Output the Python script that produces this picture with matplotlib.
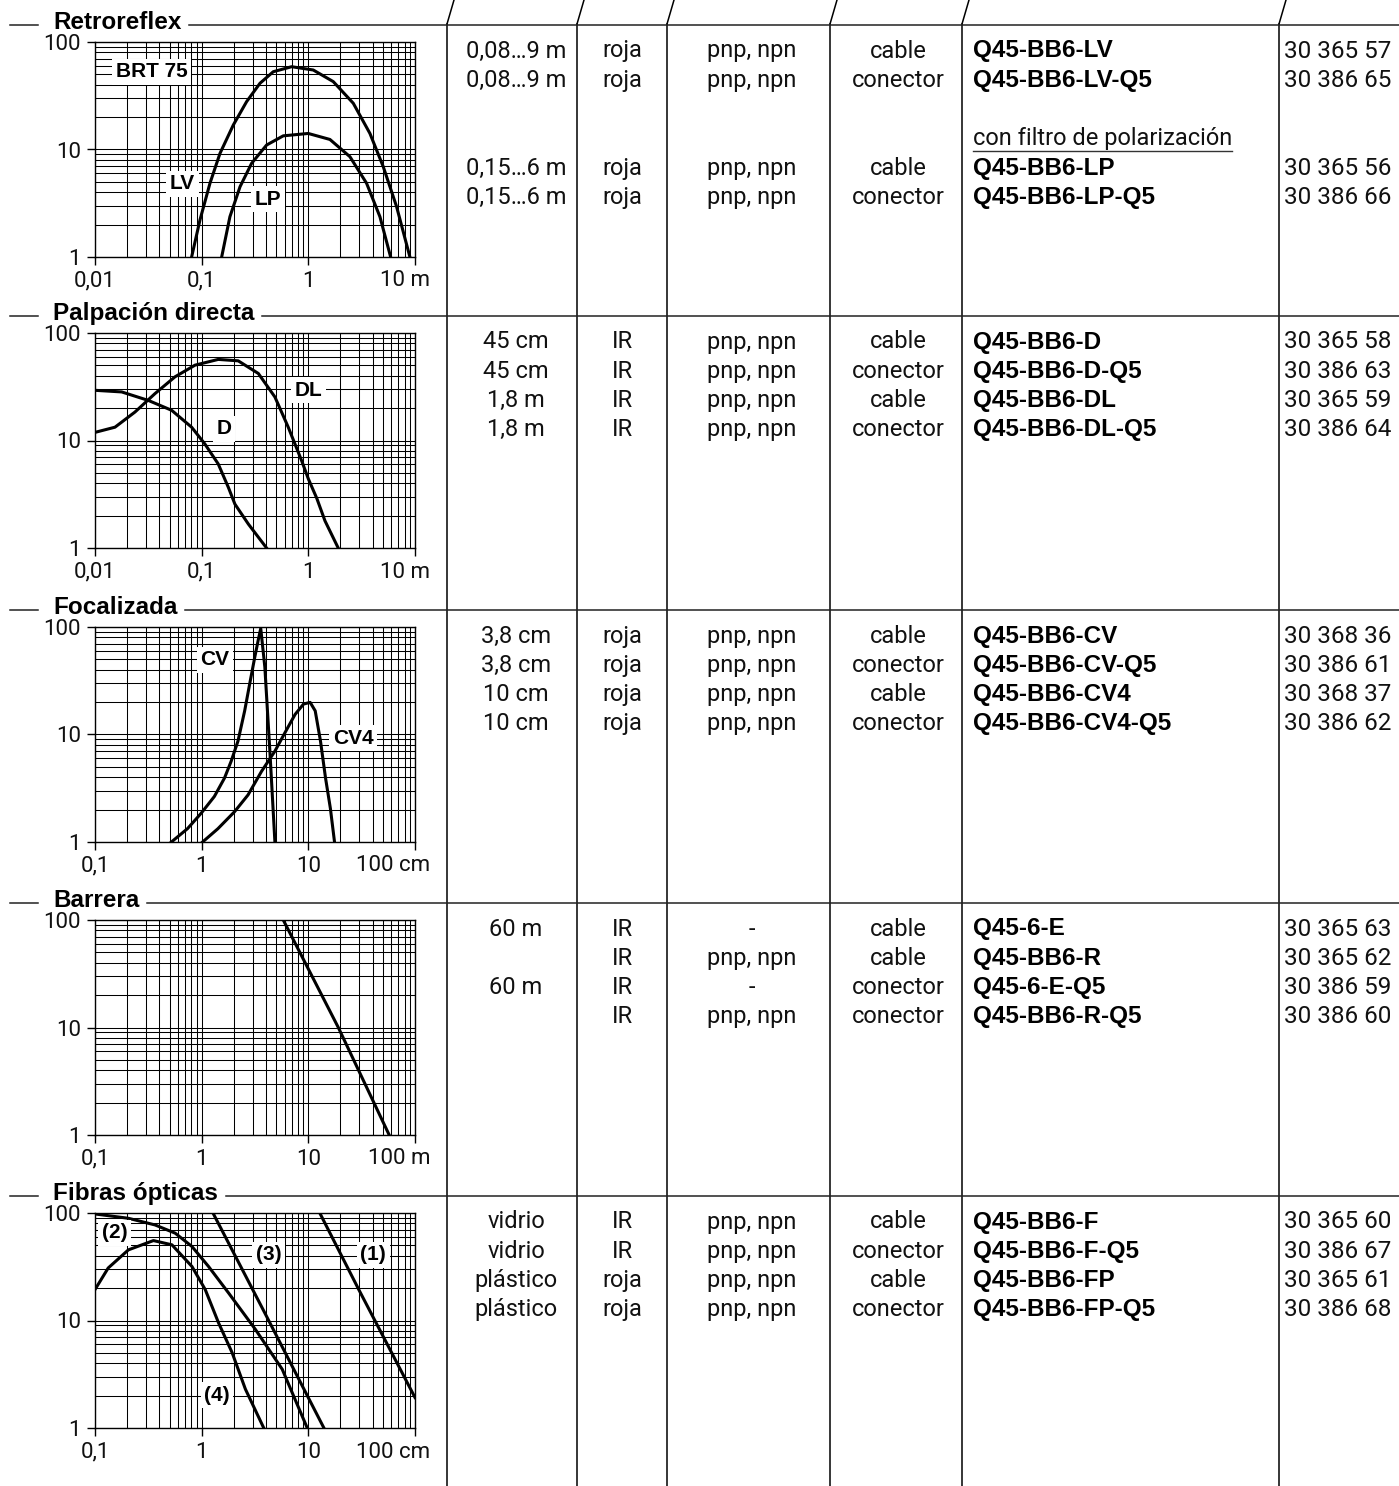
import matplotlib
matplotlib.use('agg')
import matplotlib.pyplot as plt
from matplotlib.lines import Line2D
from matplotlib.ticker import LogLocator, NullFormatter
from matplotlib.transforms import offset_copy

W, H = 1399, 1486

plt.rcParams['font.family'] = ['Roboto', 'DejaVu Sans']
plt.rcParams['font.weight'] = 'normal'

# --- curve data (x = distance, y = excess gain) ---
lv_x = [0.0805, 0.0964, 0.1196, 0.1485, 0.198, 0.264, 0.352, 0.469, 0.697, 1.112, 1.713, 2.64, 3.78, 5.04, 6.72, 8.96]
lv_y = [1.0, 2.21, 4.85, 9.2, 16.9, 27.9, 41.3, 52.9, 58.9, 54.9, 42.8, 26.9, 14.1, 6.92, 2.94, 1.0]
lp_x = [0.154, 0.184, 0.229, 0.294, 0.406, 0.582, 0.998, 1.594, 2.455, 3.516, 4.69, 5.91]
lp_y = [1.0, 2.37, 4.51, 7.44, 11.0, 13.4, 14.1, 12.4, 8.57, 4.85, 2.37, 1.0]

d_x = [0.01, 0.0178, 0.0316, 0.0523, 0.0805, 0.107, 0.143, 0.178, 0.205, 0.274, 0.406]
d_y = [29.3, 28.3, 23.6, 19.1, 13.3, 9.3, 6.05, 3.66, 2.56, 1.67, 1.0]
dl_x = [0.01, 0.0154, 0.0237, 0.0365, 0.0562, 0.0865, 0.143, 0.22, 0.34, 0.486, 0.648, 0.865, 1.0, 1.2, 1.432, 1.906]
dl_y = [11.9, 13.3, 18.4, 27.3, 39.1, 50.2, 56.8, 55.1, 42, 25.4, 13.3, 6.5, 4.4, 2.9, 1.79, 1.0]

cv_x = [0.52, 0.736, 0.984, 1.315, 1.636, 1.89, 2.19, 2.53, 2.82, 3.15, 3.39, 3.58, 3.91, 4.36, 4.86]
cv_y = [1.0, 1.33, 1.84, 2.65, 3.93, 5.64, 8.69, 16.6, 29.6, 52.7, 75.5, 97, 42.5, 7.0, 1.0]
cv4_x = [1.02, 1.42, 2.03, 2.72, 3.64, 4.86, 6.04, 7.52, 9.02, 10.4, 11.6, 13.0, 14.5, 16.1, 17.6]
cv4_y = [1.0, 1.33, 1.91, 2.74, 4.54, 7.0, 10.4, 15.4, 19.2, 19.9, 16.6, 8.69, 3.93, 2.05, 1.0]

e_x = [5.82, 19.1, 57.3]
e_y = [100, 10, 1]

f1_x = [12.8, 29.7, 100]
f1_y = [100, 19.4, 1.92]
f2_x = [0.1, 0.2056, 0.366, 0.565, 0.811, 1.16, 1.79, 3.19, 5.69, 9.77]
f2_y = [98, 89.3, 77.4, 64.9, 48.8, 31.8, 18.0, 8.26, 3.52, 1.0]
f3_x = [1.29, 3.9, 14.0]
f3_y = [98, 11.8, 1.0]
f4_x = [0.1, 0.133, 0.2056, 0.353, 0.526, 0.811, 1.08, 1.44, 1.93, 2.57, 3.82]
f4_y = [19.4, 30.8, 45.4, 55.4, 50.6, 31.8, 19.4, 9.5, 5.02, 2.30, 1.0]

# --- sections ---
titles = ['Retroreflex', 'Palpación directa', 'Focalizada', 'Barrera', 'Fibras ópticas']
x_ranges = [(0.01, 10), (0.01, 10), (0.1, 100), (0.1, 100), (0.1, 100)]
x_labels = [['0,01', '0,1', '1', '10 m'],
            ['0,01', '0,1', '1', '10 m'],
            ['0,1', '1', '10', '100 cm'],
            ['0,1', '1', '10', '100 m'],
            ['0,1', '1', '10', '100 cm']]
curves = [[(lv_x, lv_y), (lp_x, lp_y)],
          [(d_x, d_y), (dl_x, dl_y)],
          [(cv_x, cv_y), (cv4_x, cv4_y)],
          [(e_x, e_y)],
          [(f1_x, f1_y), (f2_x, f2_y), (f3_x, f3_y), (f4_x, f4_y)]]
curve_labels = [[('BRT 75', 0.034, 53), ('LV', 0.066, 4.78), ('LP', 0.42, 3.46)],
                [('DL', 1.0, 29.3), ('D', 0.162, 12.9)],
                [('CV', 1.33, 49.8), ('CV4', 26.4, 9.2)],
                [],
                [('(2)', 0.152, 65.7), ('(3)', 4.24, 40.8), ('(1)', 40.5, 40.8), ('(4)', 1.39, 2.02)]]

# --- table ---
rng = [['0,08…9 m', '0,08…9 m', '0,15…6 m', '0,15…6 m'],
       ['45 cm', '45 cm', '1,8 m', '1,8 m'],
       ['3,8 cm', '3,8 cm', '10 cm', '10 cm'],
       ['60 m', '', '60 m', ''],
       ['vidrio', 'vidrio', 'plástico', 'plástico']]
light = [['roja', 'roja', 'roja', 'roja'],
         ['IR', 'IR', 'IR', 'IR'],
         ['roja', 'roja', 'roja', 'roja'],
         ['IR', 'IR', 'IR', 'IR'],
         ['IR', 'IR', 'roja', 'roja']]
output = [['pnp, npn'] * 4, ['pnp, npn'] * 4, ['pnp, npn'] * 4,
          ['-', 'pnp, npn', '-', 'pnp, npn'], ['pnp, npn'] * 4]
conn = [['cable', 'conector', 'cable', 'conector'],
        ['cable', 'conector', 'cable', 'conector'],
        ['cable', 'conector', 'cable', 'conector'],
        ['cable', 'cable', 'conector', 'conector'],
        ['cable', 'conector', 'cable', 'conector']]
models = [['Q45-BB6-LV', 'Q45-BB6-LV-Q5', 'Q45-BB6-LP', 'Q45-BB6-LP-Q5'],
          ['Q45-BB6-D', 'Q45-BB6-D-Q5', 'Q45-BB6-DL', 'Q45-BB6-DL-Q5'],
          ['Q45-BB6-CV', 'Q45-BB6-CV-Q5', 'Q45-BB6-CV4', 'Q45-BB6-CV4-Q5'],
          ['Q45-6-E', 'Q45-BB6-R', 'Q45-6-E-Q5', 'Q45-BB6-R-Q5'],
          ['Q45-BB6-F', 'Q45-BB6-F-Q5', 'Q45-BB6-FP', 'Q45-BB6-FP-Q5']]
order_no = [['30 365 57', '30 386 65', '30 365 56', '30 386 66'],
            ['30 365 58', '30 386 63', '30 365 59', '30 386 64'],
            ['30 368 36', '30 386 61', '30 368 37', '30 386 62'],
            ['30 365 63', '30 365 62', '30 386 59', '30 386 60'],
            ['30 365 60', '30 386 67', '30 365 61', '30 386 68']]
row_slots = [[0, 1, 4, 5], [0, 1, 2, 3], [0, 1, 2, 3], [0, 1, 2, 3], [0, 1, 2, 3]]

# layout in pixels
chart_tops = [42, 333, 627, 920, 1213]
chart_left, chart_w, chart_h = 95, 320, 215
col_lines = [447, 577, 667, 830, 962, 1279]
col_centers = [516, 622, 752, 898]
model_x, order_x = 973, 1284
row_step = 29.3

LIGHT = dict(family=['Roboto', 'DejaVu Sans'], weight='normal', color='#111111')
BOLD = dict(family=['Liberation Sans', 'DejaVu Sans'], weight='bold', color='black')


def fx(x):
    return x / W


def fy(y):
    return 1 - y / H


def hline(fig, x0, x1, y, lw=1.1, color='#222222'):
    fig.add_artist(Line2D([fx(x0), fx(x1)], [fy(y), fy(y)], transform=fig.transFigure,
                          color=color, lw=lw))


fig = plt.figure(figsize=(W / 100, H / 100), dpi=100)
renderer = fig.canvas.get_renderer()

# column separators with the slanted header strokes
for cx in col_lines:
    fig.add_artist(Line2D([fx(cx), fx(cx)], [fy(24), fy(H)], transform=fig.transFigure,
                          color='black', lw=1.1))
    fig.add_artist(Line2D([fx(cx), fx(cx + 7)], [fy(24), fy(0)], transform=fig.transFigure,
                          color='black', lw=1.1))

for i, title in enumerate(titles):
    top = chart_tops[i]
    head_y = top - 17

    # section header: short dash, bold title, long rule
    hline(fig, 10, 38, head_y)
    t = fig.text(fx(53), fy(head_y + 4), title, fontsize=17.5, va='baseline', **BOLD)
    bb = t.get_window_extent(renderer)
    hline(fig, bb.x1 + 8, W, head_y)

    # chart
    ax = fig.add_axes([fx(chart_left), fy(top + chart_h), chart_w / W, chart_h / H])
    ax.set_xscale('log')
    ax.set_yscale('log')
    x0, x1 = x_ranges[i]
    ax.set_xlim(x0, x1)
    ax.set_ylim(1, 100)
    for cx_, cy_ in curves[i]:
        ax.plot(cx_, cy_, color='black', lw=2.2, solid_joinstyle='round', zorder=3)
    for s, lx, ly in curve_labels[i]:
        ax.text(lx, ly, s, ha='center', va='center', fontsize=15, zorder=4,
                bbox=dict(facecolor='white', edgecolor='none', pad=2.5), **BOLD)

    ax.xaxis.set_minor_locator(LogLocator(base=10, subs=range(2, 10)))
    ax.yaxis.set_minor_locator(LogLocator(base=10, subs=range(2, 10)))
    ax.xaxis.set_minor_formatter(NullFormatter())
    ax.yaxis.set_minor_formatter(NullFormatter())
    ax.grid(True, which='both', color='black', lw=0.75, zorder=1)
    ax.set_axisbelow(True)

    ax.set_xticks([x0, x0 * 10, x0 * 100, x1])
    ax.set_xticklabels(x_labels[i][:-1] + [''])
    ax.set_yticks([1, 10, 100])
    ax.set_yticklabels(['1', '10', '100'])
    ax.tick_params(which='major', length=6, width=1, color='black', pad=4,
                   labelsize=16, labelcolor='#111111')
    ax.tick_params(which='minor', length=0)
    # unit label sits right-aligned past the last tick
    tr = offset_copy(ax.transAxes, fig=fig, x=15, y=-13.5, units='dots')
    ax.text(1.0, 0, x_labels[i][-1], transform=tr, ha='right', va='top', fontsize=16, **LIGHT)
    for sp in ax.spines.values():
        sp.set_linewidth(1.0)
        sp.set_color('black')

    # table rows
    row0 = top + 9
    for k in range(4):
        ry = row0 + row_step * row_slots[i][k]
        vals = [rng[i][k], light[i][k], output[i][k], conn[i][k]]
        for cxp, v in zip(col_centers, vals):
            if v:
                fig.text(fx(cxp), fy(ry), v, ha='center', va='center', fontsize=17, **LIGHT)
        fig.text(fx(model_x), fy(ry), models[i][k], ha='left', va='center', fontsize=17.5, **BOLD)
        fig.text(fx(order_x), fy(ry), order_no[i][k], ha='left', va='center', fontsize=17.5, **LIGHT)

    if i == 0:
        ry = row0 + row_step * 3
        note = fig.text(fx(model_x), fy(ry), 'con filtro de polarización', ha='left',
                        va='center', fontsize=17, **LIGHT)
        nb = note.get_window_extent(renderer)
        fig.add_artist(Line2D([nb.x0 / W, nb.x1 / W], [(nb.y0 - 1) / H, (nb.y0 - 1) / H],
                              transform=fig.transFigure, color='#333333', lw=1.0))

fig.savefig('out.png', dpi=100, facecolor='white')
